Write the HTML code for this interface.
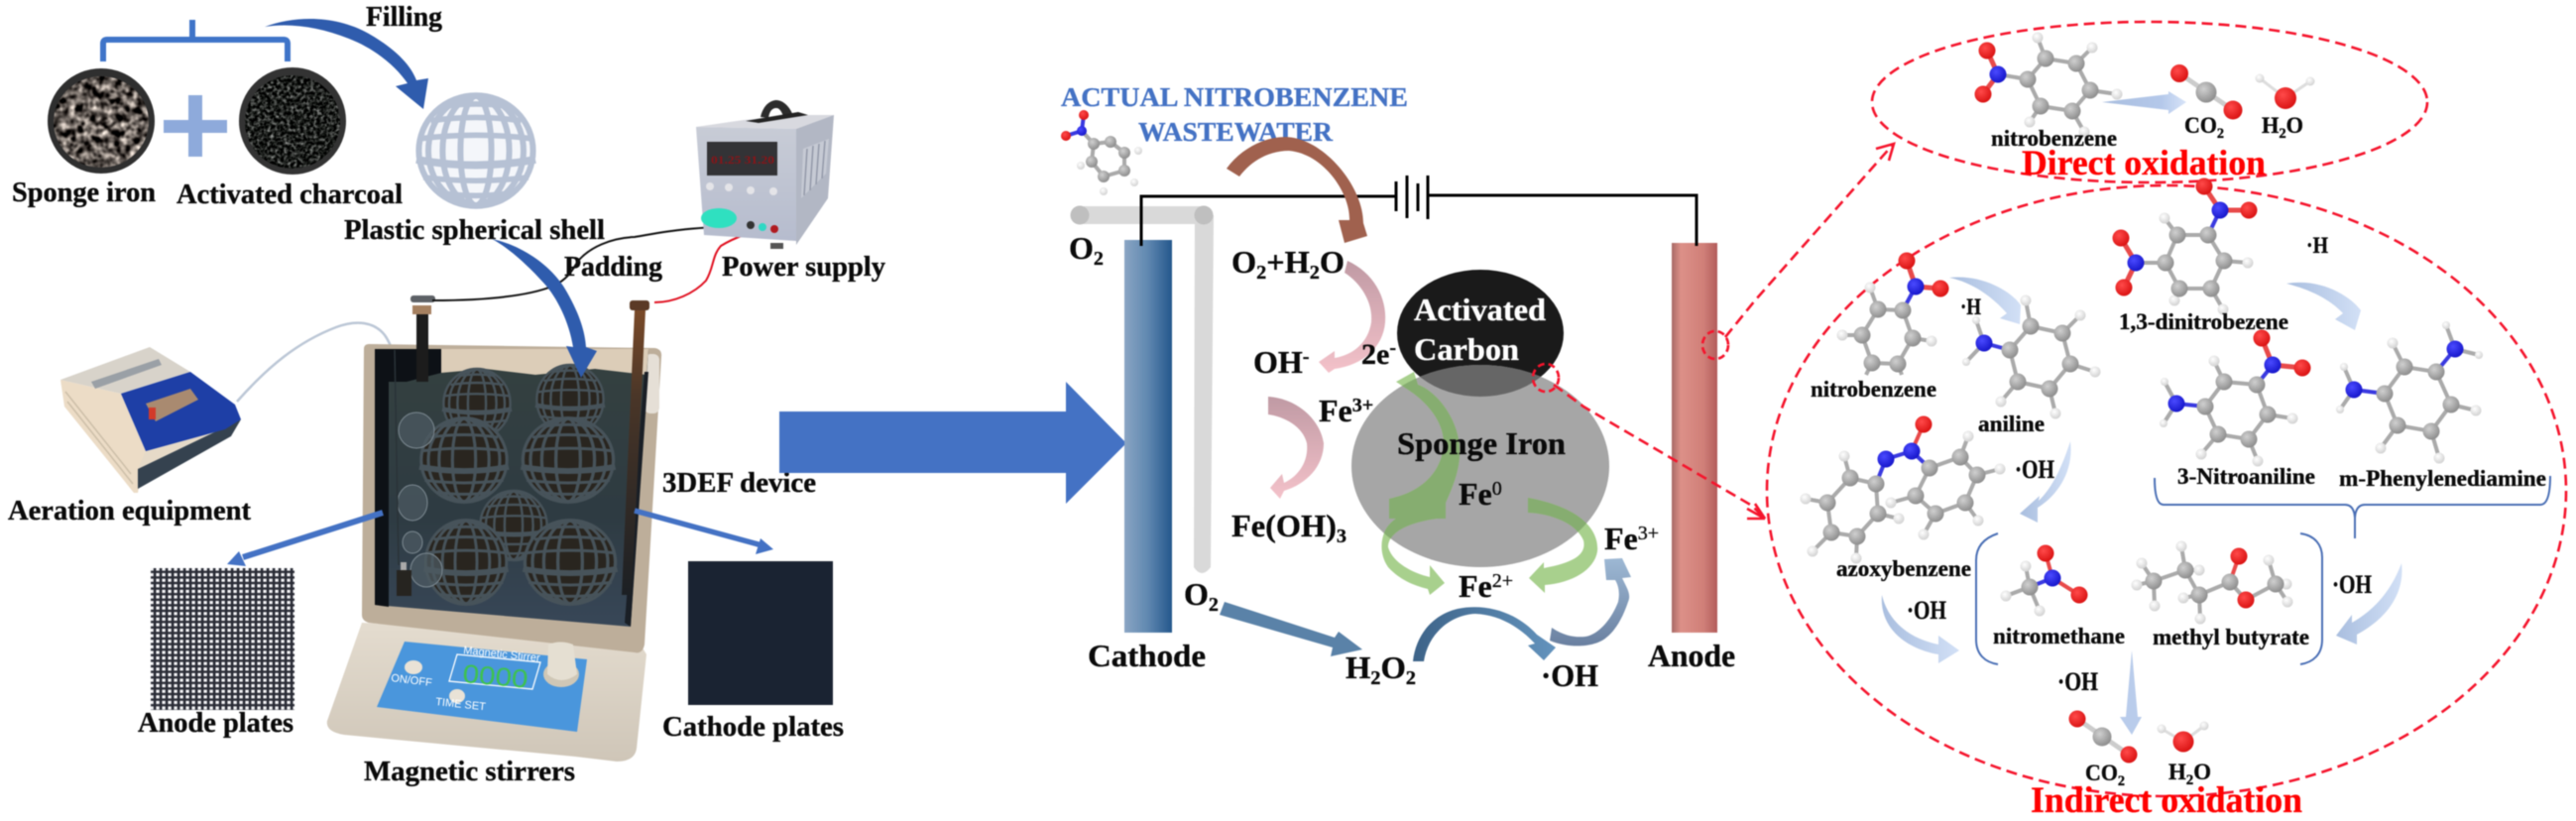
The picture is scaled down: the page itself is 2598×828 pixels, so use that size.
<!DOCTYPE html>
<html><head><meta charset="utf-8"><style>
html,body{margin:0;padding:0;background:#fff}
svg{display:block;filter:blur(.4px)}
text{font-family:"Liberation Serif",serif;font-weight:bold;font-size:28px;fill:#0a0a0a;stroke:#0a0a0a;stroke-width:.35}
.s{font-size:32px}.m{font-size:23px}.r{fill:#f00;stroke:#f00;font-size:36px}
.bl{fill:#4472c4;stroke:#4472c4}.w{fill:#fff;stroke:#fff}.t{stroke:none}
.b{fill:none;stroke:#aaa;stroke-width:4}
.bn{fill:none;stroke:#3a3ae0;stroke-width:4}
.bo{fill:none;stroke:#e84a4a;stroke-width:3}
.bh{fill:none;stroke:#ddd;stroke-width:3}
.c{fill:url(#gc);r:8.5px}.h{fill:url(#gh);r:5.5px}.o{fill:url(#go);r:8.5px}.n{fill:url(#gn);r:8.5px}
.d{fill:none;stroke:#f5142c;stroke-width:2.6;stroke-dasharray:11 6}
</style></head><body>
<svg xmlns="http://www.w3.org/2000/svg" width="2598" height="828" viewBox="0 0 2598 828">
<defs>
<radialGradient id="gc" cx=".38" cy=".35" r=".7"><stop offset="0" stop-color="#d0d0d0"/><stop offset="1" stop-color="#8a8a8a"/></radialGradient>
<radialGradient id="gh" cx=".4" cy=".35" r=".7"><stop offset="0" stop-color="#fff"/><stop offset="1" stop-color="#cfcfcf"/></radialGradient>
<radialGradient id="go" cx=".38" cy=".35" r=".7"><stop offset="0" stop-color="#ff4a4a"/><stop offset="1" stop-color="#d81010"/></radialGradient>
<radialGradient id="gn" cx=".38" cy=".35" r=".7"><stop offset="0" stop-color="#4a4aff"/><stop offset="1" stop-color="#1414c8"/></radialGradient>
<linearGradient id="cath" x1="0" x2="1" y1="0" y2="0"><stop offset="0" stop-color="#8aa5c4"/><stop offset=".5" stop-color="#5f88b0"/><stop offset="1" stop-color="#24588c"/></linearGradient>
<linearGradient id="anod" x1="0" x2="1" y1="0" y2="0"><stop offset="0" stop-color="#a86a66"/><stop offset=".2" stop-color="#dc9088"/><stop offset=".7" stop-color="#d07f78"/><stop offset="1" stop-color="#b35c5c"/></linearGradient>
<linearGradient id="pink1" x1="0" x2="0" y1="0" y2="1"><stop offset="0" stop-color="#c09aa4"/><stop offset="1" stop-color="#f4c2ca"/></linearGradient>
<linearGradient id="arch" x1="0" x2="1" y1="0" y2="0"><stop offset="0" stop-color="#3d6388"/><stop offset="1" stop-color="#6393bd"/></linearGradient>
<linearGradient id="arc2" x1="0" x2="0" y1="1" y2="0"><stop offset="0" stop-color="#6a80a0"/><stop offset="1" stop-color="#9db8d4"/></linearGradient>
<linearGradient id="lb0" x1="0" x2="1" y1="0" y2="0"><stop offset="0" stop-color="#a9bedf"/><stop offset=".7" stop-color="#b4c8ea"/><stop offset="1" stop-color="#d8e4f8"/></linearGradient>
<linearGradient id="lb2" x1="0" x2="1" y1="0" y2="0"><stop offset="0" stop-color="#a9bedf"/><stop offset="1" stop-color="#d2e0f6"/></linearGradient>
<linearGradient id="water" x1="0" x2="0" y1="0" y2="1"><stop offset="0" stop-color="#354140"/><stop offset=".6" stop-color="#2e3b42"/><stop offset="1" stop-color="#384758"/></linearGradient>
<linearGradient id="psf" x1="0" x2="0" y1="0" y2="1"><stop offset="0" stop-color="#c8ccd6"/><stop offset="1" stop-color="#b6bcce"/></linearGradient>
<linearGradient id="base" x1="0" x2="0" y1="0" y2="1"><stop offset="0" stop-color="#e4dccf"/><stop offset="1" stop-color="#cfc6b8"/></linearGradient>
<linearGradient id="rod" x1="0" x2="0" y1="0" y2="1"><stop offset="0" stop-color="#7a4a28"/><stop offset=".3" stop-color="#4a3628"/><stop offset="1" stop-color="#1c2024"/></linearGradient>
<filter id="peb" x="0" y="0" width="1" height="1" color-interpolation-filters="sRGB"><feTurbulence type="fractalNoise" baseFrequency=".13" numOctaves="2" seed="4"/><feColorMatrix values="1.3 1.3 0 0 -.93  1.25 1.25 0 0 -.91  1.2 1.2 0 0 -.88  0 0 0 0 1"/><feComposite in2="SourceGraphic" operator="in"/></filter>
<filter id="cl" x="0" y="0" width="1" height="1" color-interpolation-filters="sRGB"><feTurbulence type="fractalNoise" baseFrequency=".3" numOctaves="2" seed="9"/><feColorMatrix values=".8 .8 0 0 -.68  .8 .8 0 0 -.67  .8 .8 0 0 -.68  0 0 0 0 1"/><feComposite in2="SourceGraphic" operator="in"/></filter>
<pattern id="mesh" width="6" height="5.6" patternUnits="userSpaceOnUse">
<rect width="6" height="5.6" fill="#2a2c36"/><rect x="1.4" y="1.2" width="3.4" height="3.2" fill="#f4f4f6"/>
</pattern>
<clipPath id="clipS"><ellipse cx="1493" cy="470" rx="130" ry="102"/></clipPath>
<g id="cage">
<ellipse cx="0" cy="0" rx="48" ry="50"/>
<g fill="none">
<ellipse cx="0" cy="0" rx="13" ry="49"/>
<ellipse cx="0" cy="0" rx="28" ry="49"/>
<ellipse cx="0" cy="0" rx="40" ry="49"/>
<path d="M-26 -40Q0 -44 26 -40M-38 -27Q0 -33 38 -27M-46 -11Q0 -17 46 -11M-44 24Q0 30 44 24M-30 38Q0 43 30 38"/>
<path d="M-50 8Q0 18 50 8" stroke-width="7"/>
</g>
</g>
</defs>
<rect width="2598" height="828" fill="#fff"/>

<!-- top-left materials -->
<path d="M104 62V44Q104 40 108 40H286Q290 40 290 44V62M194 20V40" fill="none" stroke="#3f74c8" stroke-width="6"/>
<ellipse cx="102" cy="122" rx="54" ry="53" fill="#2f2f2f"/><ellipse cx="102" cy="123" rx="48" ry="46" fill="#555" filter="url(#peb)"/>
<path d="M165 121H190V96H204V121H229V134H204V158H190V134H165Z" fill="#8eaadb"/>
<ellipse cx="295" cy="122" rx="54" ry="54" fill="#333"/><ellipse cx="295" cy="123" rx="48" ry="47" fill="#111" filter="url(#cl)"/>
<text x="369" y="26" textLength="77" lengthAdjust="spacingAndGlyphs">Filling</text>
<path d="M267 27C300 15 340 16 372 34C398 49 414 65 420 81L432 79L427 110L399 87L411 84C400 68 380 50 352 39C322 27 292 23 267 27Z" fill="#2f5cad"/>
<use href="#cage" transform="translate(480,152) scale(1.2,1.12)" fill="#f4f6fa" stroke="#b6c1d4" stroke-width="5"/>
<text x="12" y="203" textLength="145" lengthAdjust="spacingAndGlyphs">Sponge iron</text>
<text x="178" y="205" textLength="228" lengthAdjust="spacingAndGlyphs">Activated charcoal</text>
<text x="347" y="241" textLength="263" lengthAdjust="spacingAndGlyphs">Plastic spherical shell</text>
<text x="569" y="278" textLength="99" lengthAdjust="spacingAndGlyphs">Padding</text>

<!-- aeration equipment -->
<path d="M239 405C270 370 300 345 339 330C360 322 378 325 388 338C398 352 402 375 404 400" fill="none" stroke="#bcc7d6" stroke-width="2.5"/>
<polygon points="61,383 122,397 147,455 139,497 135,497 65,410" fill="#ecdcc6"/>
<path d="M66 395L132 478M68 405L134 488" stroke="#cdbfa9" stroke-width="1.5" fill="none"/>
<polygon points="61,383 151,350 192,375 122,397" fill="#d8d3ca"/>
<polygon points="92,385 160,362 163,368 96,392" fill="#9aa0a6"/>
<polygon points="147,455 243,423 139,473" fill="#e6dac8"/>
<polygon points="139,473 243,423 233,440 139,493" fill="#35424f"/>
<polygon points="192,375 237,408 243,423 227,433 147,455 122,397" fill="#1e3fa6"/>
<polygon points="147,407 192,392 200,403 157,425" fill="#a98a70"/>
<rect x="150" y="411" width="7" height="12" fill="#d23a2a"/>
<text x="8" y="524" textLength="245" lengthAdjust="spacingAndGlyphs">Aeration equipment</text>

<!-- tank / stirrer -->
<path d="M365 628L330 727Q328 738 347 741L580 763L622 768Q640 768 642 755L652 660L640 640Z" fill="url(#base)"/>
<path d="M367 352Q367 347 372 347L660 351Q668 352 667 360L650 650Q648 660 640 658L372 628Q365 626 365 620Z" fill="#bdae9a"/>
<rect x="650" y="357" width="15" height="60" rx="6" fill="#e5dfd6"/>
<polygon points="378,352 654,352 636,632 378,610" fill="url(#water)"/>
<polygon points="445,352 654,352 652,378 600,372 540,378 490,372 445,376" fill="#dccdb8"/>
<polygon points="378,352 445,352 445,376 410,385 392,385 392,612 378,610" fill="#0d1116"/>
<polygon points="650,375 654,375 636,632 630,628" fill="#1a1f26"/>
<g fill="#29251f" stroke="#47535a" stroke-width="3.5">
<use href="#cage" transform="translate(481,407) scale(.7,.7)"/>
<use href="#cage" transform="translate(575,403) scale(.7,.7)"/>
<use href="#cage" transform="translate(518,530) scale(.7,.7)"/>
<use href="#cage" transform="translate(468,464) scale(.9,.85)"/>
<use href="#cage" transform="translate(573,464) scale(.95,.85)"/>
<use href="#cage" transform="translate(470,567) scale(.85,.85)"/>
<use href="#cage" transform="translate(575,567) scale(.95,.85)"/>
</g>
<g fill="#4c5a62" fill-opacity=".75" stroke="#7d8a92" stroke-width="1">
<ellipse cx="420" cy="434" rx="18" ry="18"/><ellipse cx="416" cy="507" rx="15" ry="18"/><ellipse cx="416" cy="547" rx="10" ry="11"/><ellipse cx="430" cy="575" rx="16" ry="17"/>
</g>
<rect x="400" y="575" width="15" height="26" fill="#262420"/><rect x="404" y="567" width="6" height="8" fill="#aaa"/>
<line x1="398" y1="353" x2="402" y2="570" stroke="#2a3338" stroke-width="1.5"/>
<rect x="420" y="315" width="12" height="70" fill="#1c1c1c"/>
<rect x="414" y="298" width="25" height="7" rx="3" fill="#5d6166"/><rect x="416" y="308" width="19" height="9" fill="#a58060"/>
<polygon points="640,313 651,313 637,600 627,600" fill="url(#rod)"/>
<rect x="635" y="303" width="20" height="10" rx="3" fill="#5b3a26"/>
<polygon points="408,647 592,665 582,738 380,713" fill="#4a96dc"/>
<polygon points="461,660 545,668 537,695 453,687" fill="none" stroke="#fff" stroke-width="1.3"/>
<text class="t" transform="translate(467,659) rotate(6)" style="font-size:11px;fill:#fff;font-weight:normal;font-family:'Liberation Sans',sans-serif">Magnetic Stirrer</text>
<text class="t" transform="translate(466,688) rotate(5)" style="font-size:26px;fill:#3ec24f;font-family:'Liberation Sans',sans-serif;font-weight:normal" textLength="66" lengthAdjust="spacingAndGlyphs">0000</text>
<ellipse cx="417" cy="673" rx="9" ry="7" fill="#e9e2d6"/><ellipse cx="461" cy="702" rx="8" ry="7" fill="#e9e2d6"/>
<text class="t" transform="translate(394,687) rotate(7)" style="font-size:11px;fill:#fff;font-weight:normal;font-family:'Liberation Sans',sans-serif">ON/OFF</text>
<text class="t" transform="translate(439,711) rotate(6)" style="font-size:11px;fill:#fff;font-weight:normal;font-family:'Liberation Sans',sans-serif">TIME SET</text>
<ellipse cx="566" cy="680" rx="18" ry="13" fill="#cfc7b6"/><path d="M553 650Q565 645 578 650L582 680Q566 692 552 680Z" fill="#e5dfd2"/>
<text x="367" y="787" textLength="213" lengthAdjust="spacingAndGlyphs">Magnetic stirrers</text>

<!-- wires -->
<path d="M436 303C480 303 530 300 559 288C575 280 578 270 584 262C595 250 615 240 640 239C670 234 690 229 757 228" fill="none" stroke="#111" stroke-width="2"/>
<path d="M780 230C760 232 740 240 727 248C718 258 720 270 712 283C700 296 680 305 660 305" fill="none" stroke="#e01020" stroke-width="2"/>
<path d="M496 241C530 248 560 272 572 295C585 318 590 335 591 350L602 354L586 381L571 349L578 350C574 325 562 300 548 285C530 265 510 248 496 241Z" fill="#2f5cad"/>

<!-- power supply -->
<polygon points="702,128 750,121 800,116 841,116 803,130" fill="#d8d9df"/>
<path d="M767 118C770 105 778 101 783 101C790 101 797 108 800 117L790 117C788 112 786 109 783 109C778 109 776 113 775 119Z" fill="#2c2c2c"/>
<polygon points="752,122 805,113 815,116 765,124" fill="#222"/>
<polygon points="702,128 803,130 803,243 710,237" fill="url(#psf)"/>
<polygon points="803,130 841,116 835,200 803,247" fill="#b2b7c4"/>
<path d="M810 150L836 140L833 175L808 200Z" fill="#c6cad4"/>
<path d="M814 150L811 197M820 147L817 192M826 145L823 186M832 142L829 180" stroke="#9298a8" stroke-width="1.5" fill="none"/>
<rect x="713" y="143" width="71" height="34" fill="#333336"/>
<text class="t" x="717" y="165" style="font-size:12px;fill:#8a1418" textLength="64" lengthAdjust="spacingAndGlyphs">01.25 31.20</text>
<g fill="#e4e4e8"><circle cx="716" cy="188" r="4"/><circle cx="735" cy="189" r="4"/><circle cx="757" cy="192" r="4"/><circle cx="780" cy="193" r="4"/></g>
<ellipse cx="725" cy="220" rx="18" ry="10" fill="#2fe0c0"/>
<circle cx="757" cy="227" r="4" fill="#333"/><circle cx="769" cy="229" r="4" fill="#2fd8c4"/><circle cx="781" cy="231" r="4" fill="#b01a20"/>
<rect x="777" y="245" width="13" height="6" fill="#555"/>
<text x="728" y="278" textLength="165" lengthAdjust="spacingAndGlyphs">Power supply</text>

<!-- plates -->
<path d="M386 517L245 562" stroke="#4472c4" stroke-width="6" fill="none"/>
<polygon points="241,556 229,569 248,571" fill="#4472c4"/>
<rect x="152" y="573" width="145" height="143" fill="url(#mesh)"/>
<text x="139" y="738" textLength="157" lengthAdjust="spacingAndGlyphs">Anode plates</text>
<path d="M640 515L772 551" stroke="#4472c4" stroke-width="5.5" fill="none"/>
<polygon points="767,543 780,554 762,559" fill="#4472c4"/>
<rect x="694" y="566" width="146" height="145" fill="#1a2332"/>
<text x="668" y="742" textLength="183" lengthAdjust="spacingAndGlyphs">Cathode plates</text>
<text x="668" y="496" textLength="155" lengthAdjust="spacingAndGlyphs">3DEF device</text>
<polygon points="786,415 1075,415 1075,385 1136,447 1075,508 1075,477 786,477" fill="#4472c4"/>

<!-- center -->
<text class="bl" x="1070" y="107" style="font-size:27px" textLength="350" lengthAdjust="spacingAndGlyphs">ACTUAL NITROBENZENE</text>
<text class="bl" x="1148" y="142" style="font-size:27px" textLength="196" lengthAdjust="spacingAndGlyphs">WASTEWATER</text>
<path d="M1103 145L1101 163L1113 178L1134 172L1134 154L1120 143ZM1103 145L1091 132" class="b"/>
<path d="M1091 132L1075 137M1091 132L1093 116" class="bn"/>
<circle class="h" cx="1090" cy="167" style="r:4px"/><circle class="h" cx="1113" cy="193" style="r:4px"/><circle class="h" cx="1148" cy="152" style="r:4px"/><circle class="h" cx="1144" cy="184" style="r:4px"/>
<circle class="c" cx="1103" cy="145" style="r:6px"/><circle class="c" cx="1101" cy="163" style="r:6px"/><circle class="c" cx="1113" cy="178" style="r:6px"/><circle class="c" cx="1134" cy="172" style="r:6px"/><circle class="c" cx="1134" cy="154" style="r:6px"/><circle class="c" cx="1120" cy="143" style="r:6px"/>
<circle class="o" cx="1093" cy="116" style="r:5px"/><circle class="o" cx="1075" cy="137" style="r:5px"/><circle class="n" cx="1091" cy="132" style="r:5px"/>

<rect x="1080" y="208" width="143" height="18" rx="9" fill="#d9d9d9"/>
<path d="M1205 217H1224L1221 572Q1212 584 1204 572Z" fill="#d9d9d9"/>
<circle cx="1089" cy="217" r="9.5" fill="#bfbfbf"/><circle cx="1214" cy="217" r="9.5" fill="#bfbfbf"/>
<text x="1078" y="261" class="s">O<tspan dy="6" font-size="20">2</tspan></text>
<rect x="1134" y="242" width="48" height="396" fill="url(#cath)"/>
<rect x="1686" y="245" width="46" height="393" fill="url(#anod)"/>
<path d="M1151 248V198H1408M1440 197H1711V248" fill="none" stroke="#000" stroke-width="3"/>
<path d="M1408 183V213M1419 177V220M1430 185V213M1440 177V221" fill="none" stroke="#000" stroke-width="3"/>
<text x="1097" y="672" class="s" textLength="119" lengthAdjust="spacingAndGlyphs">Cathode</text>
<text x="1662" y="672" class="s" textLength="88" lengthAdjust="spacingAndGlyphs">Anode</text>
<path d="M1237 170C1255 145 1285 135 1305 139C1340 146 1375 190 1375 225L1379 238L1356 245L1350 222L1361 222C1362 195 1335 155 1300 152C1280 152 1262 162 1250 178Z" fill="#a0614e"/>
<text x="1242" y="275" class="s" textLength="114" lengthAdjust="spacingAndGlyphs">O<tspan dy="6" font-size="20">2</tspan><tspan dy="-6">+H</tspan><tspan dy="6" font-size="20">2</tspan><tspan dy="-6">O</tspan></text>
<path d="M1359 263C1385 275 1399 300 1397 325C1395 350 1375 368 1346 372L1340 376L1330 365L1346 354L1346 361C1365 358 1380 345 1383 325C1385 305 1372 285 1356 275Z" fill="url(#pink1)"/>
<text x="1264" y="376" class="s">OH<tspan dy="-10" font-size="20">-</tspan></text>
<text x="1373" y="367" class="s" style="font-size:30px">2e<tspan dy="-10" font-size="20">-</tspan></text>
<path d="M1279 400C1310 402 1332 425 1335 447C1335 470 1318 488 1295 495L1291 503L1281 492L1293 478L1295 487C1310 480 1320 465 1318 447C1314 430 1295 420 1279 418Z" fill="url(#pink1)"/>
<text x="1330" y="425" class="s">Fe<tspan dy="-10" font-size="20">3+</tspan></text>
<text x="1242" y="541" class="s" textLength="116" lengthAdjust="spacingAndGlyphs">Fe(OH)<tspan dy="6" font-size="20">3</tspan></text>

<ellipse cx="1493" cy="336" rx="84" ry="64" fill="#1a1a1a"/>
<ellipse cx="1493" cy="470" rx="130" ry="102" fill="#a6a6a6"/>
<ellipse cx="1493" cy="336" rx="84" ry="64" fill="#666" clip-path="url(#clipS)"/>
<text x="1426" y="323" class="s w" textLength="133" lengthAdjust="spacingAndGlyphs">Activated</text>
<text x="1426" y="363" class="s w" textLength="106" lengthAdjust="spacingAndGlyphs">Carbon</text>
<g>
<path d="M1426 375L1408 385L1417 391C1440 405 1455 425 1456 445C1456 470 1440 495 1401 503V523H1458V507C1468 485 1475 465 1471 443C1466 415 1445 393 1430 388Z" fill="#a8d08d"/>
<path d="M1458 507C1425 512 1405 520 1397 535C1391 548 1393 562 1400 572C1412 585 1425 590 1440 594L1442 600L1457 588L1442 570L1442 582C1425 578 1405 568 1400 552C1400 535 1425 525 1458 522Z" fill="#a8d08d"/>
<path d="M1541 502V517C1565 518 1590 528 1597 545C1600 558 1590 567 1557 573L1557 567L1542 583L1558 598V590C1585 588 1608 575 1611 556C1613 535 1595 512 1541 502Z" fill="#a8d08d"/>
<g clip-path="url(#clipS)">
<path d="M1426 375L1408 385L1417 391C1440 405 1455 425 1456 445C1456 470 1440 495 1401 503V523H1458V507C1468 485 1475 465 1471 443C1466 415 1445 393 1430 388Z" fill="#86ad70"/>
<path d="M1458 507C1425 512 1405 520 1397 535C1391 548 1393 562 1400 572C1412 585 1425 590 1440 594L1442 600L1457 588L1442 570L1442 582C1425 578 1405 568 1400 552C1400 535 1425 525 1458 522Z" fill="#86ad70"/>
<path d="M1541 502V517C1565 518 1590 528 1597 545C1600 558 1590 567 1557 573L1557 567L1542 583L1558 598V590C1585 588 1608 575 1611 556C1613 535 1595 512 1541 502Z" fill="#86ad70"/>
</g>
</g>
<text x="1409" y="458" class="s" textLength="170" lengthAdjust="spacingAndGlyphs">Sponge Iron</text>
<text x="1471" y="509" class="s">Fe<tspan dy="-10" font-size="20" font-weight="normal">0</tspan></text>
<text x="1471" y="602" class="s">Fe<tspan dy="-10" font-size="20" font-weight="normal">2+</tspan></text>
<text x="1618" y="554" class="s">Fe<tspan dy="-10" font-size="20" font-weight="normal">3+</tspan></text>
<text x="1194" y="610" class="s">O<tspan dy="6" font-size="20">2</tspan></text>
<path d="M1235 607L1346 643L1350 637L1374 655L1342 662L1344 653L1230 620Z" fill="#5a82a8"/>
<text x="1357" y="684" class="s" textLength="71" lengthAdjust="spacingAndGlyphs">H<tspan dy="6" font-size="20">2</tspan><tspan dy="-6">O</tspan><tspan dy="6" font-size="20">2</tspan></text>
<path d="M1425 667C1428 640 1445 620 1470 614C1500 608 1530 618 1550 640L1569 653L1557 666L1541 651L1548 649C1530 630 1510 620 1488 619C1462 620 1440 640 1436 667Z" fill="url(#arch)"/>
<text x="1554" y="692" class="s" textLength="58" lengthAdjust="spacingAndGlyphs">·OH</text>
<path d="M1565 633C1578 642 1590 643 1599 642C1612 640 1625 625 1632 607C1634 597 1632 590 1629 585L1620 585L1618 564L1636 563L1645 582L1636 583C1642 595 1645 600 1642 607C1636 625 1628 637 1620 643C1610 652 1585 655 1563 646Z" fill="url(#arc2)"/>

<!-- red dashed -->
<ellipse class="d" cx="1730" cy="348" rx="13" ry="14" style="stroke-dasharray:7 4"/>
<ellipse class="d" cx="1559" cy="381" rx="13" ry="14" style="stroke-dasharray:7 4"/>
<path class="d" d="M1740 340L1770 303L1793 277L1908 147"/>
<path d="M1892 150L1910 145L1905 162" fill="none" stroke="#f5142c" stroke-width="2.6"/>
<path class="d" d="M1567 388L1597 410L1767 510L1778 521"/>
<path d="M1762 513L1780 523L1770 508M1762 523L1780 523" fill="none" stroke="#f5142c" stroke-width="2.6"/>
<ellipse class="d" cx="2168" cy="103" rx="280" ry="81"/>
<ellipse class="d" cx="2185" cy="495" rx="403" ry="308"/>

<!-- direct oxidation -->
<path d="M2120 103L2187 95V92L2205 103L2187 115V111Z" fill="url(#lb0)"/>
<path d="M2045 80L2063 59L2094 64L2108 91L2090 112L2058 107Z M2045 80L2015 75M2063 59L2055 38M2094 64L2110 48M2108 91L2135 95M2090 112L2102 133M2058 107L2047 123" class="b"/>
<path d="M2015 75L2004 51M2015 75L2000 95" class="bo" style="stroke-width:5"/>
<circle class="h" cx="2055" cy="38"/><circle class="h" cx="2110" cy="48"/><circle class="h" cx="2135" cy="95"/><circle class="h" cx="2102" cy="133"/><circle class="h" cx="2047" cy="123"/>
<circle class="c" cx="2045" cy="80"/><circle class="c" cx="2063" cy="59"/><circle class="c" cx="2094" cy="64"/><circle class="c" cx="2108" cy="91"/><circle class="c" cx="2090" cy="112"/><circle class="c" cx="2058" cy="107"/>
<circle class="o" cx="2004" cy="51"/><circle class="o" cx="2000" cy="95"/><circle class="n" cx="2015" cy="75"/>
<text x="2008" y="147" class="m" textLength="127" lengthAdjust="spacingAndGlyphs">nitrobenzene</text>
<text x="2039" y="176" class="r" textLength="246" lengthAdjust="spacingAndGlyphs">Direct oxidation</text>
<path d="M2198 74L2252 111" class="bo" style="stroke-width:5;stroke:#ccc"/>
<circle class="o" cx="2198" cy="74" style="r:9px"/><circle class="c" cx="2225" cy="93" style="r:10.5px"/><circle class="o" cx="2252" cy="111" style="r:9.5px"/>
<path d="M2279 79L2305 99L2330 82" class="bh"/>
<circle class="h" cx="2279" cy="79" style="r:4.5px"/><circle class="h" cx="2330" cy="82" style="r:4.5px"/><circle class="o" cx="2305" cy="99" style="r:11px"/>
<text x="2203" y="134" class="m" textLength="40" lengthAdjust="spacingAndGlyphs">CO<tspan dy="5" font-size="15">2</tspan></text>
<text x="2281" y="134" class="m" textLength="42" lengthAdjust="spacingAndGlyphs">H<tspan dy="5" font-size="15">2</tspan><tspan dy="-5">O</tspan></text>

<!-- nitrobenzene indirect -->
<path d="M1919 313L1894 312L1878 338L1888 366L1914 367L1929 341Z M1894 312L1886 290M1878 338L1858 338M1929 341L1948 344M1888 366L1882 378M1914 367L1918 378" class="b"/>
<path d="M1919 313L1932 289" class="bn"/><path d="M1932 289L1923 263M1932 289L1957 291" class="bo" style="stroke-width:5"/>
<circle class="h" cx="1886" cy="290"/><circle class="h" cx="1858" cy="338"/><circle class="h" cx="1948" cy="344"/>
<circle class="c" cx="1919" cy="313"/><circle class="c" cx="1894" cy="312"/><circle class="c" cx="1878" cy="338"/><circle class="c" cx="1888" cy="366"/><circle class="c" cx="1914" cy="367"/><circle class="c" cx="1929" cy="341"/>
<circle class="o" cx="1923" cy="263"/><circle class="o" cx="1957" cy="291"/><circle class="n" cx="1932" cy="289"/>
<text x="1826" y="400" class="m" textLength="127" lengthAdjust="spacingAndGlyphs">nitrobenzene</text>
<text x="1977" y="317" class="m" textLength="21" lengthAdjust="spacingAndGlyphs">·H</text>
<path d="M1966 280C2000 276 2030 295 2038 308L2037 327L2017 321L2024 316C2010 300 1990 285 1966 280Z" fill="url(#lb2)"/>
<!-- aniline -->
<path d="M2027 353L2048 329L2080 336L2088 367L2067 392L2035 385Z M2048 329L2043 303M2080 336L2098 318M2088 367L2113 375M2067 392L2073 417M2035 385L2018 405M2001 346L1993 323M2001 346L1983 365" class="b"/>
<path d="M2001 346L2027 353" class="bn"/>
<circle class="h" cx="2043" cy="303"/><circle class="h" cx="2098" cy="318"/><circle class="h" cx="2113" cy="375"/><circle class="h" cx="2073" cy="417"/><circle class="h" cx="2018" cy="405"/><circle class="h" cx="1993" cy="323" style="r:4px"/><circle class="h" cx="1983" cy="365" style="r:4px"/>
<circle class="c" cx="2027" cy="353"/><circle class="c" cx="2048" cy="329"/><circle class="c" cx="2080" cy="336"/><circle class="c" cx="2088" cy="367"/><circle class="c" cx="2067" cy="392"/><circle class="c" cx="2035" cy="385"/>
<circle class="n" cx="2001" cy="346"/>
<text x="1995" y="435" class="m" textLength="67" lengthAdjust="spacingAndGlyphs">aniline</text>
<!-- dinitro -->
<path d="M2227 237L2196 237L2184 265L2198 291L2230 291L2243 263Z M2196 237L2183 220M2243 263L2267 265M2230 291L2242 312M2198 291L2193 303M2184 265L2154 265" class="b"/>
<path d="M2227 237L2239 212" class="bn"/><path d="M2239 212L2223 188M2239 212L2268 212M2154 265L2139 240M2154 265L2142 290" class="bo" style="stroke-width:5"/>
<circle class="h" cx="2183" cy="220"/><circle class="h" cx="2267" cy="265"/><circle class="h" cx="2242" cy="312"/><circle class="h" cx="2193" cy="303"/>
<circle class="c" cx="2227" cy="237"/><circle class="c" cx="2196" cy="237"/><circle class="c" cx="2184" cy="265"/><circle class="c" cx="2198" cy="291"/><circle class="c" cx="2230" cy="291"/><circle class="c" cx="2243" cy="263"/>
<circle class="o" cx="2223" cy="188"/><circle class="o" cx="2268" cy="212"/><circle class="n" cx="2239" cy="212"/>
<circle class="o" cx="2139" cy="240"/><circle class="o" cx="2142" cy="290"/><circle class="n" cx="2154" cy="265"/>
<text x="2137" y="332" class="m" textLength="171" lengthAdjust="spacingAndGlyphs">1,3-dinitrobezene</text>
<text x="2326" y="255" class="m" textLength="22" lengthAdjust="spacingAndGlyphs">·H</text>
<path d="M2306 286C2340 280 2370 298 2381 313L2375 333L2355 322L2363 316C2350 302 2330 292 2306 286Z" fill="url(#lb2)"/>
<!-- 3-nitroaniline -->
<path d="M2276 388L2243 385L2224 410L2237 438L2268 443L2287 418Z M2243 385L2233 364M2287 418L2312 422M2237 438L2220 458M2268 443L2277 465M2195 407L2183 385M2195 407L2182 427" class="b"/>
<path d="M2276 388L2292 368M2195 407L2224 410" class="bn"/><path d="M2292 368L2281 341M2292 368L2322 371" class="bo" style="stroke-width:5"/>
<circle class="h" cx="2233" cy="364"/><circle class="h" cx="2312" cy="422"/><circle class="h" cx="2220" cy="458"/><circle class="h" cx="2277" cy="465"/><circle class="h" cx="2183" cy="385" style="r:4px"/><circle class="h" cx="2182" cy="427" style="r:4px"/>
<circle class="c" cx="2276" cy="388"/><circle class="c" cx="2243" cy="385"/><circle class="c" cx="2224" cy="410"/><circle class="c" cx="2237" cy="438"/><circle class="c" cx="2268" cy="443"/><circle class="c" cx="2287" cy="418"/>
<circle class="o" cx="2281" cy="341"/><circle class="o" cx="2322" cy="371"/><circle class="n" cx="2292" cy="368"/><circle class="n" cx="2195" cy="407"/>
<text x="2196" y="488" class="m" textLength="139" lengthAdjust="spacingAndGlyphs">3-Nitroaniline</text>
<!-- mPD -->
<path d="M2405 397L2425 370L2457 375L2472 408L2452 435L2418 429Z M2425 370L2413 346M2472 408L2497 414M2452 435L2460 462M2418 429L2401 452M2374 393L2364 370M2374 393L2360 413M2476 352L2467 328M2476 352L2500 358" class="b"/>
<path d="M2374 393L2405 397M2476 352L2457 375" class="bn"/>
<circle class="h" cx="2413" cy="346"/><circle class="h" cx="2497" cy="414"/><circle class="h" cx="2460" cy="462"/><circle class="h" cx="2401" cy="452"/><circle class="h" cx="2364" cy="370" style="r:4px"/><circle class="h" cx="2360" cy="413" style="r:4px"/><circle class="h" cx="2467" cy="328" style="r:4px"/><circle class="h" cx="2500" cy="358" style="r:4px"/>
<circle class="c" cx="2405" cy="397"/><circle class="c" cx="2425" cy="370"/><circle class="c" cx="2457" cy="375"/><circle class="c" cx="2472" cy="408"/><circle class="c" cx="2452" cy="435"/><circle class="c" cx="2418" cy="429"/>
<circle class="n" cx="2374" cy="393"/><circle class="n" cx="2476" cy="352"/>
<text x="2359" y="490" class="m" textLength="209" lengthAdjust="spacingAndGlyphs">m-Phenylenediamine</text>
<path d="M2173 482Q2173 509 2182 509H2365Q2374 509 2375 522Q2376 509 2385 509H2562Q2572 509 2572 480M2375 522V543" fill="none" stroke="#4a6fb5" stroke-width="2"/>
<!-- azoxybenzene -->
<path d="M1892 488L1866 482L1843 507L1847 537L1873 541L1894 518Z M1866 482L1860 460M1843 507L1821 503M1894 518L1915 523M1847 537L1828 556M1873 541L1872 563M1946 472L1977 461L1994 479L1982 507L1952 518L1932 500Z M1977 461L1985 440M1994 479L2017 473M1982 507L1995 525M1952 518L1940 539M1932 500L1907 507" class="b"/>
<path d="M1892 488L1902 463L1928 455L1946 472" class="bn"/><path d="M1928 455L1940 428" class="bo" style="stroke-width:4"/>
<circle class="h" cx="1860" cy="460"/><circle class="h" cx="1821" cy="503"/><circle class="h" cx="1915" cy="523"/><circle class="h" cx="1828" cy="556"/><circle class="h" cx="1872" cy="563"/><circle class="h" cx="1985" cy="440"/><circle class="h" cx="2017" cy="473"/><circle class="h" cx="1995" cy="525"/><circle class="h" cx="1940" cy="539"/><circle class="h" cx="1907" cy="507"/>
<circle class="c" cx="1892" cy="488"/><circle class="c" cx="1866" cy="482"/><circle class="c" cx="1843" cy="507"/><circle class="c" cx="1847" cy="537"/><circle class="c" cx="1873" cy="541"/><circle class="c" cx="1894" cy="518"/>
<circle class="c" cx="1946" cy="472"/><circle class="c" cx="1977" cy="461"/><circle class="c" cx="1994" cy="479"/><circle class="c" cx="1982" cy="507"/><circle class="c" cx="1952" cy="518"/><circle class="c" cx="1932" cy="500"/>
<circle class="o" cx="1940" cy="428"/><circle class="n" cx="1928" cy="455"/><circle class="n" cx="1902" cy="463"/>
<text x="2032" y="482" class="m" style="font-size:26px" textLength="40" lengthAdjust="spacingAndGlyphs">·OH</text>
<path d="M2088 445C2092 475 2075 500 2055 512L2055 527L2037 518L2057 500L2056 505C2070 492 2080 470 2088 445Z" fill="url(#lb2)"/>
<text x="1852" y="581" class="m" textLength="136" lengthAdjust="spacingAndGlyphs">azoxybenzene</text>
<text x="1923" y="624" class="m" style="font-size:26px" textLength="40" lengthAdjust="spacingAndGlyphs">·OH</text>
<path d="M1898 600C1905 630 1930 645 1955 650V641L1976 656L1955 669V660C1925 655 1895 635 1898 600Z" fill="url(#lb2)"/>
<path d="M2015 538C2000 543 1993 552 1993 565V645C1993 660 2002 668 2015 670" fill="none" stroke="#4a6fb5" stroke-width="2"/>
<path d="M2320 538C2335 540 2342 550 2342 562V645C2342 660 2333 668 2320 670" fill="none" stroke="#4a6fb5" stroke-width="2"/>
<!-- nitromethane -->
<path d="M2047 592L2043 571M2047 592L2023 601M2047 592L2057 616" class="b"/>
<path d="M2047 592L2070 583" class="bn"/><path d="M2070 583L2063 558M2070 583L2097 600" class="bo" style="stroke-width:4"/>
<circle class="h" cx="2043" cy="571"/><circle class="h" cx="2023" cy="601"/><circle class="h" cx="2057" cy="616"/>
<circle class="c" cx="2047" cy="592"/><circle class="o" cx="2063" cy="558"/><circle class="o" cx="2097" cy="600"/><circle class="n" cx="2070" cy="583"/>
<text x="2010" y="649" class="m" textLength="133" lengthAdjust="spacingAndGlyphs">nitromethane</text>
<!-- methyl butyrate -->
<path d="M2172 586L2204 575L2218 600L2249 587L2265 605L2295 589M2172 586L2160 568M2172 586L2155 590M2172 586L2173 611M2204 575L2200 551M2204 575L2218 575M2218 600L2202 603M2218 600L2219 624M2295 589L2288 565M2295 589L2306 589M2295 589L2307 607" class="b"/>
<path d="M2249 587L2258 561" class="bo" style="stroke-width:4"/>
<circle class="h" cx="2160" cy="568"/><circle class="h" cx="2155" cy="590"/><circle class="h" cx="2173" cy="611"/><circle class="h" cx="2200" cy="551"/><circle class="h" cx="2218" cy="575"/><circle class="h" cx="2202" cy="603"/><circle class="h" cx="2219" cy="624"/><circle class="h" cx="2288" cy="565"/><circle class="h" cx="2306" cy="589"/><circle class="h" cx="2307" cy="607"/>
<circle class="c" cx="2172" cy="586"/><circle class="c" cx="2204" cy="575"/><circle class="c" cx="2218" cy="600"/><circle class="c" cx="2249" cy="587"/><circle class="c" cx="2295" cy="589"/>
<circle class="o" cx="2258" cy="561"/><circle class="o" cx="2265" cy="605"/>
<text x="2171" y="650" class="m" textLength="158" lengthAdjust="spacingAndGlyphs">methyl butyrate</text>
<text x="2352" y="598" class="m" style="font-size:26px" textLength="40" lengthAdjust="spacingAndGlyphs">·OH</text>
<path d="M2422 568C2426 600 2405 625 2377 640L2377 650L2356 641L2372 620L2372 628C2395 615 2412 595 2422 568Z" fill="url(#lb2)"/>
<!-- products -->
<path d="M2150 656L2156 723H2160L2150 741L2138 723H2144Z" fill="#b9cceb"/>
<text x="2075" y="696" class="m" style="font-size:26px" textLength="41" lengthAdjust="spacingAndGlyphs">·OH</text>
<path d="M2095 725L2147 761" class="bo" style="stroke-width:5;stroke:#ccc"/>
<circle class="o" cx="2095" cy="725"/><circle class="c" cx="2120" cy="743" style="r:9.5px"/><circle class="o" cx="2147" cy="761"/>
<text x="2103" y="787" class="m" textLength="40" lengthAdjust="spacingAndGlyphs">CO<tspan dy="5" font-size="15">2</tspan></text>
<path d="M2180 735L2202 748L2223 732" class="bh"/>
<circle class="h" cx="2180" cy="735" style="r:4.5px"/><circle class="h" cx="2223" cy="732" style="r:4.5px"/><circle class="o" cx="2202" cy="748" style="r:10.5px"/>
<text x="2187" y="786" class="m" textLength="43" lengthAdjust="spacingAndGlyphs">H<tspan dy="5" font-size="15">2</tspan><tspan dy="-5">O</tspan></text>
<text x="2048" y="819" class="r" style="font-size:37px" textLength="274" lengthAdjust="spacingAndGlyphs">Indirect oxidation</text>
</svg>
</body></html>
